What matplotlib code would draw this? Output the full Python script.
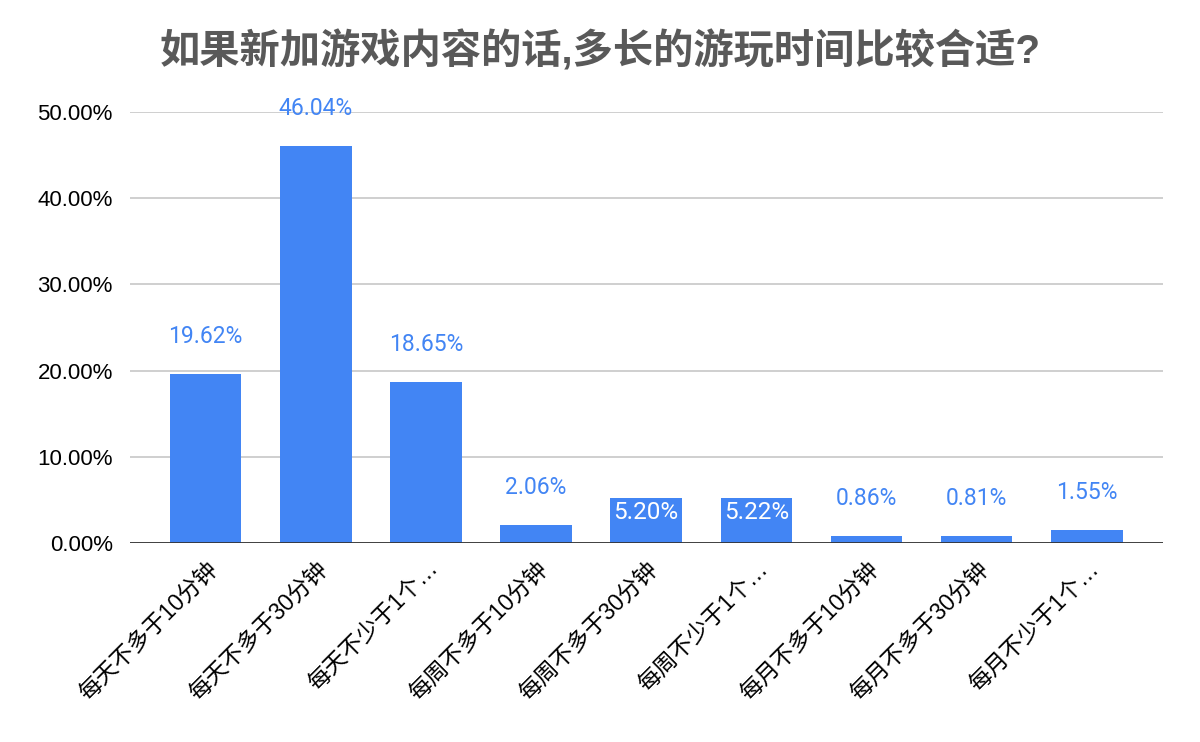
import matplotlib
matplotlib.use('Agg')
from matplotlib import pyplot as plt

categories = ["每天不多于10分钟", "每天不多于30分钟", "每天不少于1个…",
              "每周不多于10分钟", "每周不多于30分钟", "每周不少于1个…",
              "每月不多于10分钟", "每月不多于30分钟", "每月不少于1个…"]
values = [19.62, 46.04, 18.65, 2.06, 5.20, 5.22, 0.86, 0.81, 1.55]
yticks = [0, 10, 20, 30, 40, 50]

fam = ['Liberation Sans', 'Noto Sans CJK SC']
num_fam = ['Roboto', 'Noto Sans CJK SC']
plt.rcParams['font.family'] = fam
blue = '#4285f4'

fig = plt.figure(figsize=(12, 7.42), dpi=100)
ax = fig.add_axes([0.108, 0.268, 0.861, 0.581])

x = list(range(len(values)))
ax.bar(x, values, width=0.65, color=blue, zorder=3)

for xi, v in zip(x, values):
    if 4 < v < 10:
        # label fits inside the bar
        ax.text(xi, v - 0.3, "%.2f%%" % v, ha='center', va='top',
                color='white', fontsize=17.5, family=num_fam, zorder=4)
    else:
        ax.text(xi, v + 4.35, "%.2f%%" % v, ha='center', va='center',
                color=blue, fontsize=16.5, family=num_fam, zorder=4)

ax.set_xlim(-0.69, 8.69)
ax.set_ylim(0, 50)
ax.set_yticks(yticks)
ax.set_yticklabels(["%.2f%%" % t for t in yticks], fontsize=16)
ax.set_xticks(x)
ax.set_xticklabels(categories, rotation=45, ha='right', va='top',
                   rotation_mode='anchor', fontsize=16.5)
ax.tick_params(axis='both', length=0, pad=12)
ax.tick_params(axis='x', pad=10)
ax.grid(axis='y', color='#cccccc', linewidth=1.3, zorder=0)
ax.axhline(0, color='#333333', linewidth=2, zorder=5)
for s in ax.spines.values():
    s.set_visible(False)
ax.set_axisbelow(True)

fig.text(0.5, 0.932, "如果新加游戏内容的话,多长的游玩时间比较合适?", ha='center', va='center',
         fontsize=29, fontweight='bold', color='#595959', family=fam)

plt.savefig("out.png", dpi=100)
plt.close()
